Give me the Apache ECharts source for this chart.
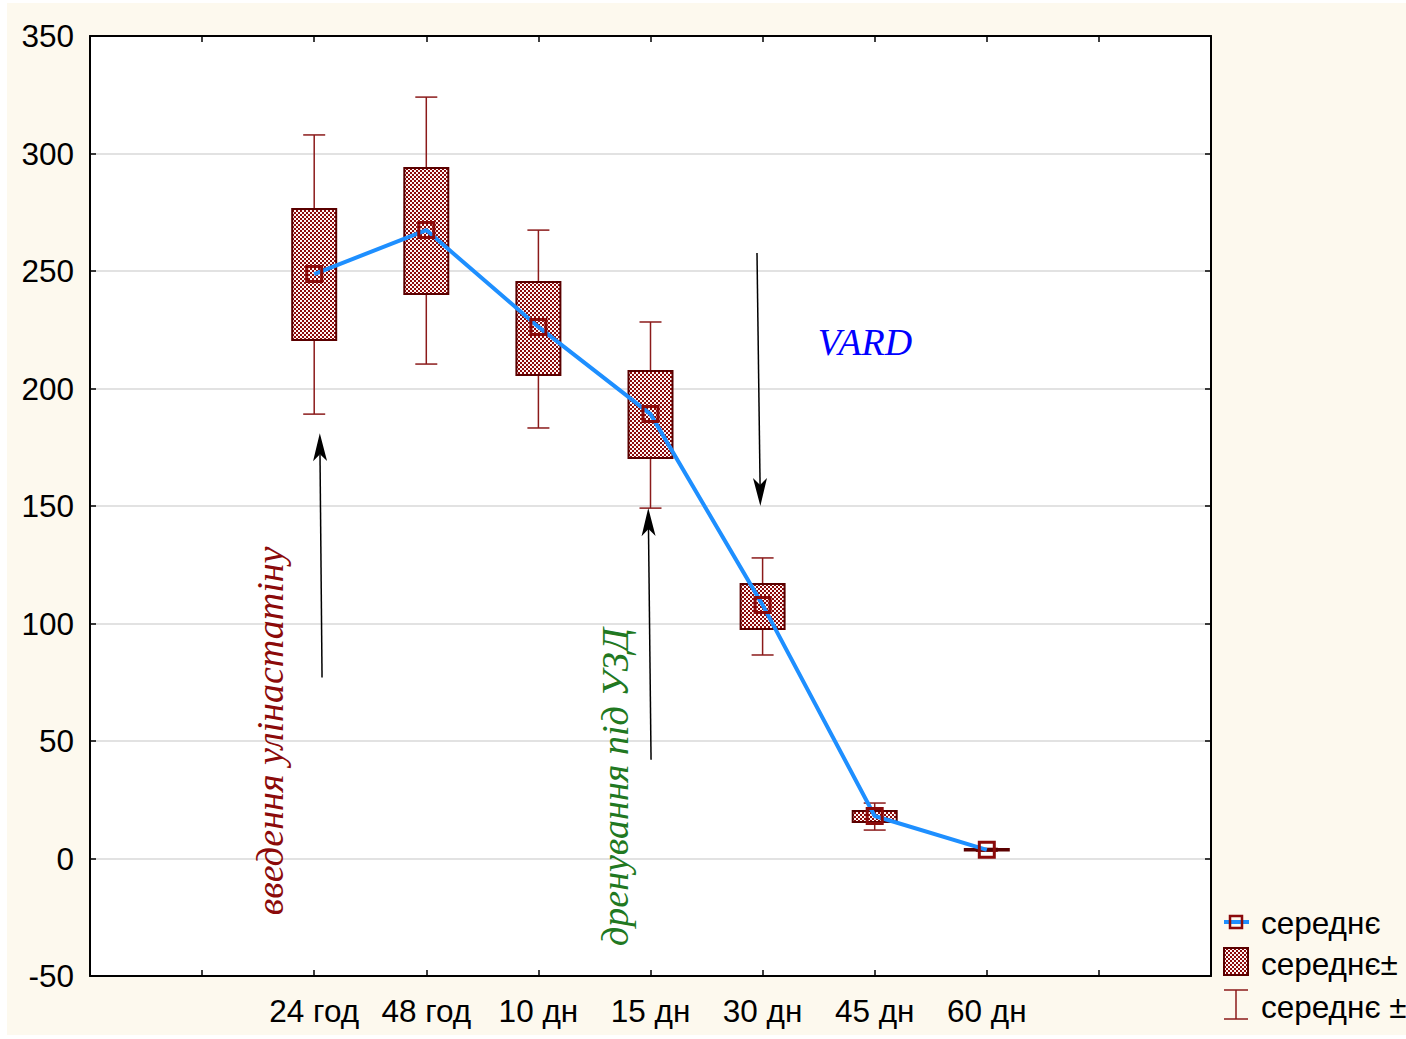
<!DOCTYPE html>
<html><head><meta charset="utf-8">
<script src="https://cdn.jsdelivr.net/npm/echarts@6/dist/echarts.min.js"></script>
<style>
html,body{margin:0;padding:0;background:#fff;}
#c{width:1406px;height:1039px;background:#FDF9EE;box-shadow:inset 7px 3px 0 #fff, inset 0 -4px 0 #fff;}
</style>
</head><body><div id="c"></div>
<script>
// ---- data ----
const categories = ['24 год','48 год','10 дн','15 дн','30 дн','45 дн','60 дн'];
const catPositions = [2,3,4,5,6,7,8];
const meanVals  = [248.7, 267.4, 226.2, 189.1, 107.9, 18.1, 3.7];
const boxLow    = [220.6, 240.2, 205.7, 170.4,  97.7, 15.5, 3.4];
const boxHigh   = [276.4, 293.8, 245.3, 207.4, 116.8, 20.2, 4.0];
const whiskLow  = [189.1, 210.4, 183.2, 149.1,  86.6, 12.1, 3.1];
const whiskHigh = [307.9, 324.0, 267.4, 228.3, 127.9, 23.6, 4.3];
const yTicks = {min:-50, max:350, interval:50};
const seriesNames = ['середнє','середнє±','середнє ±'];

// annotations in data coordinates
const notes = [
  {text:'введення улінастатіну', x:1.606, y:54.3, color:'#8B0A0A', rotate:true},
  {text:'дренування під УЗД', x:4.683, y:30.4, color:'#217821', rotate:true},
  {text:'VARD', x:6.913, y:219.8, color:'#0000FF', rotate:false}
];
const arrows = [
  {from:[2.07, 77], to:[2.05, 181]},
  {from:[5.005, 42], to:[4.98, 149.1]},
  {from:[5.95, 257.7], to:[5.98, 150]}
];

// ---- pattern ----
function makePattern(){
  const c = document.createElement('canvas'); c.width = 4; c.height = 4;
  const g = c.getContext('2d');
  g.fillStyle = '#8B0A0A'; g.fillRect(0,0,4,4);
  g.fillStyle = '#FFF6F6'; g.fillRect(0,0,2,2); g.fillRect(2,2,2,2);
  return {image: c.toDataURL(), repeat:'repeat', imageWidth:4, imageHeight:4};
}
const pattern = makePattern();

const boxData = catPositions.map((x,i)=>[x, boxLow[i], boxHigh[i]]);
const whiskData = catPositions.map((x,i)=>[x, whiskLow[i], whiskHigh[i]]);
const meanData = catPositions.map((x,i)=>[x, meanVals[i]]);

const axisFont = {fontFamily:'Liberation Sans, Arial, sans-serif', fontSize:31.5, color:'#000'};

const xBase = {
  type:'value', min:0, max:10, interval:1,
  axisLine:{show:true, onZero:false, lineStyle:{color:'#000', width:2}},
  axisTick:{show:true, inside:true, length:6, lineStyle:{color:'#000', width:1.5}},
  splitLine:{show:false}
};
const yBase = {
  type:'value', min:yTicks.min, max:yTicks.max, interval:yTicks.interval,
  axisLine:{show:true, onZero:false, lineStyle:{color:'#000', width:2}},
  axisTick:{show:true, inside:true, length:6, lineStyle:{color:'#000', width:1.5}}
};

const option = {
  backgroundColor:'transparent',
  animation:false,
  grid:{left:90, top:36, right:195, bottom:63, show:true, backgroundColor:'#fff', borderWidth:0},
  xAxis:[
    Object.assign({}, xBase, {position:'bottom',
      axisLabel:Object.assign({margin:19, formatter:(v)=>{const k=catPositions.indexOf(v); return k>=0?categories[k]:'';}}, axisFont)}),
    Object.assign({}, xBase, {position:'top', axisLabel:{show:false}})
  ],
  yAxis:[
    Object.assign({}, yBase, {position:'left',
      axisLabel:Object.assign({margin:16}, axisFont),
      splitLine:{show:true, lineStyle:{color:'#D9D9D9', width:1.5}}}),
    Object.assign({}, yBase, {position:'right', axisLabel:{show:false}, splitLine:{show:false}})
  ],
  series:[
    {
      name:seriesNames[2], type:'custom', z:1, data:whiskData,
      renderItem:(params, api)=>{
        const x = api.value(0);
        const lo = api.coord([x, api.value(1)]);
        const hi = api.coord([x, api.value(2)]);
        const cw = 11;
        const st = {stroke:'#8B1A1A', lineWidth:1.5};
        return {type:'group', children:[
          {type:'line', shape:{x1:lo[0], y1:lo[1], x2:hi[0], y2:hi[1]}, style:st},
          {type:'line', shape:{x1:lo[0]-cw, y1:lo[1], x2:lo[0]+cw, y2:lo[1]}, style:st},
          {type:'line', shape:{x1:hi[0]-cw, y1:hi[1], x2:hi[0]+cw, y2:hi[1]}, style:st}
        ]};
      }
    },
    {
      name:seriesNames[1], type:'custom', z:2, data:boxData,
      renderItem:(params, api)=>{
        const x = api.value(0);
        const lo = api.coord([x, api.value(1)]);
        const hi = api.coord([x, api.value(2)]);
        const hw = 22;
        return {type:'rect', shape:{x:lo[0]-hw, y:hi[1], width:2*hw, height:Math.max(lo[1]-hi[1], 0.5)},
          style:{fill:pattern, stroke:'#5A0000', lineWidth:2}};
      }
    },
    {
      name:seriesNames[0], type:'line', z:3, data:meanData,
      lineStyle:{color:'#1E8FFF', width:4},
      symbol:'rect', symbolSize:15, showSymbol:true,
      itemStyle:{color:'rgba(0,0,0,0)', borderColor:'#8B0A0A', borderWidth:3}
    }
  ]
};

const chart = echarts.init(document.getElementById('c'), null, {renderer:'svg'});
chart.setOption(option);

function px(p){ return chart.convertToPixel({gridIndex:0}, p); }

const g = [];
notes.forEach(n=>{
  const p = px([n.x, n.y]);
  g.push({type:'text', x:p[0], y:p[1], rotation:n.rotate?Math.PI/2:0, z:50,
    style:{text:n.text, fill:n.color, font:'italic 38px "Liberation Serif", "Times New Roman", serif',
      align:'center', verticalAlign:'middle'}});
});
arrows.forEach(a=>{
  const s = px(a.from), t = px(a.to);
  const dx=t[0]-s[0], dy=t[1]-s[1], L=Math.hypot(dx,dy), ux=dx/L, uy=dy/L, nx=-uy, ny=ux;
  const len=28, hw=7, notch=21;
  const base=[t[0]-ux*len, t[1]-uy*len];
  g.push({type:'line', z:50, shape:{x1:s[0], y1:s[1], x2:t[0]-ux*notch, y2:t[1]-uy*notch}, style:{stroke:'#000', lineWidth:1.5}});
  g.push({type:'polygon', z:50, shape:{points:[t, [base[0]+nx*hw, base[1]+ny*hw], [t[0]-ux*notch, t[1]-uy*notch], [base[0]-nx*hw, base[1]-ny*hw]]}, style:{fill:'#000'}});
});
// legend
const lf = '31.5px "Liberation Sans", Arial, sans-serif';
g.push({type:'line', z:50, shape:{x1:1224, y1:922, x2:1249, y2:922}, style:{stroke:'#1E8FFF', lineWidth:4}});
g.push({type:'rect', z:51, shape:{x:1230, y:916, width:12, height:12}, style:{fill:'none', stroke:'#8B0A0A', lineWidth:2.5}});
g.push({type:'text', z:50, x:1261, y:923, style:{text:seriesNames[0], font:lf, fill:'#000', verticalAlign:'middle'}});
g.push({type:'rect', z:50, shape:{x:1224, y:948, width:24, height:27}, style:{fill:pattern, stroke:'#5A0000', lineWidth:2}});
g.push({type:'text', z:50, x:1261, y:964, style:{text:seriesNames[1], font:lf, fill:'#000', verticalAlign:'middle'}});
g.push({type:'line', z:50, shape:{x1:1236, y1:990, x2:1236, y2:1019}, style:{stroke:'#8B1A1A', lineWidth:1.5}});
g.push({type:'line', z:50, shape:{x1:1224, y1:990, x2:1248, y2:990}, style:{stroke:'#8B1A1A', lineWidth:1.5}});
g.push({type:'line', z:50, shape:{x1:1224, y1:1019, x2:1248, y2:1019}, style:{stroke:'#8B1A1A', lineWidth:1.5}});
g.push({type:'text', z:50, x:1261, y:1007, style:{text:seriesNames[2], font:lf, fill:'#000', verticalAlign:'middle'}});

chart.setOption({graphic:{elements:g}});
</script>
</body></html>
